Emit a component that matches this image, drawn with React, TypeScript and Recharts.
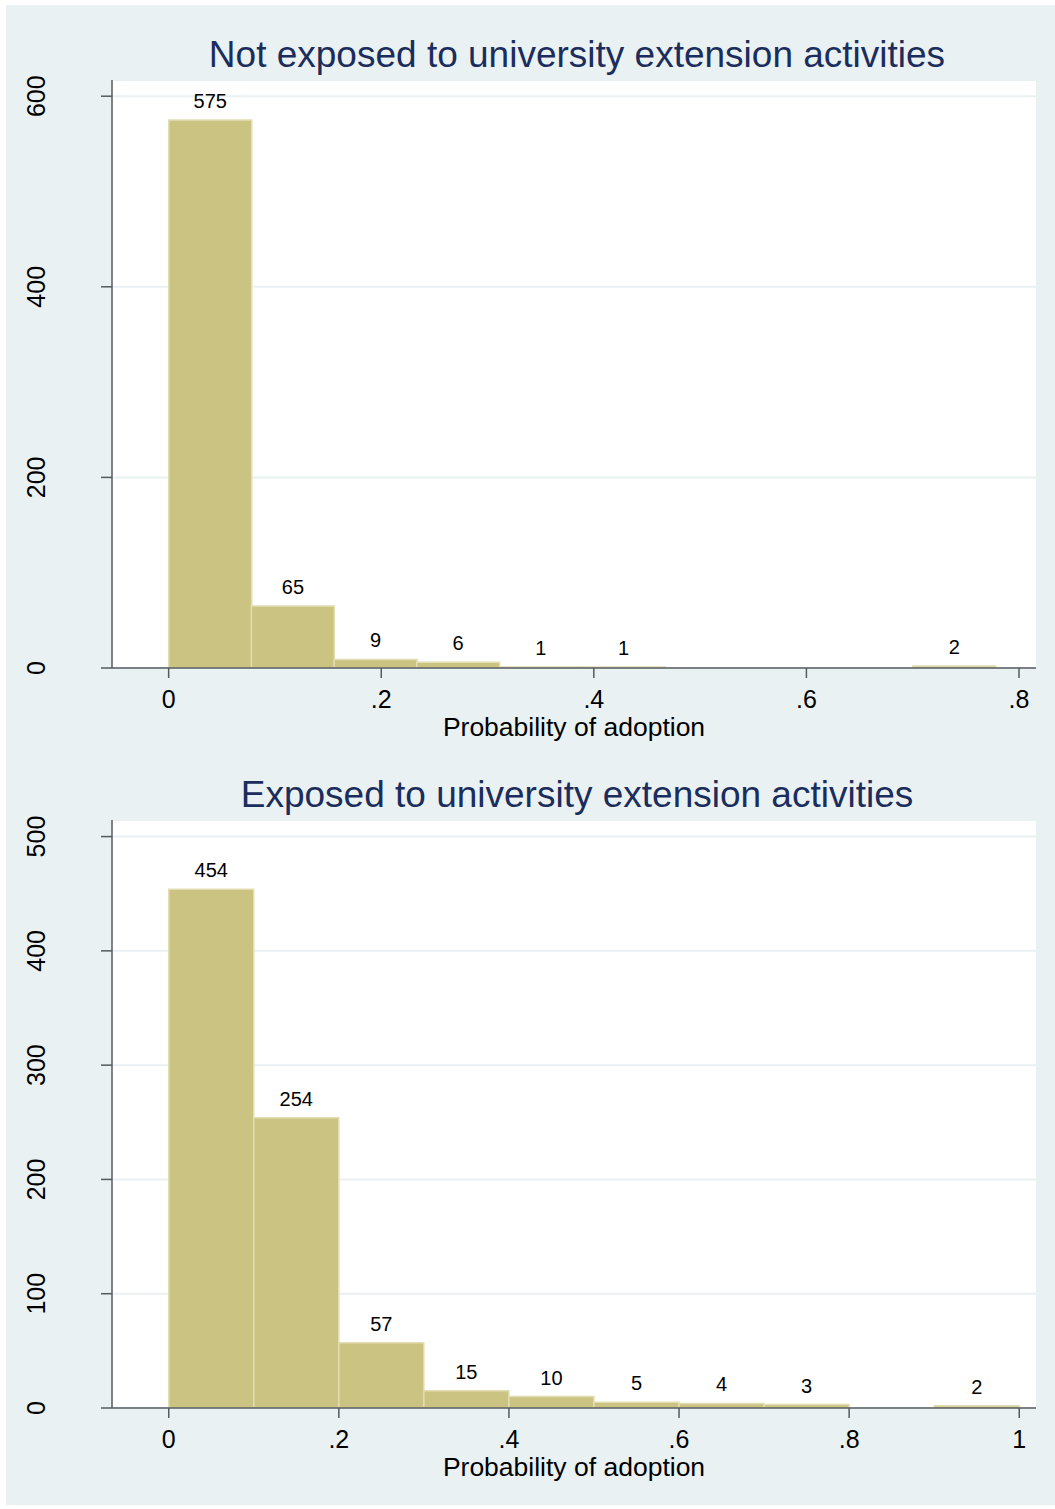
import React from 'react';
import { BarChart, Bar, XAxis, YAxis, CartesianGrid, LabelList } from 'recharts';

// ---- Data ----
const topTitle = 'Not exposed to university extension activities';
const bottomTitle = 'Exposed to university extension activities';
const xAxisTitle = 'Probability of adoption';

const topBinStarts = [0, 0.0778, 0.1556, 0.2333, 0.3111, 0.3889, 0.4667, 0.5444, 0.6222, 0.7];
const topBinWidth = 0.0778;
const topCounts = [575, 65, 9, 6, 1, 1, 0, 0, 0, 2];
const topYTicks = [0, 200, 400, 600];
const topXTicks = [0, 0.2, 0.4, 0.6, 0.8];

const bottomBinStarts = [0, 0.1, 0.2, 0.3, 0.4, 0.5, 0.6, 0.7, 0.8, 0.9];
const bottomBinWidth = 0.1;
const bottomCounts = [454, 254, 57, 15, 10, 5, 4, 3, 0, 2];
const bottomYTicks = [0, 100, 200, 300, 400, 500];
const bottomXTicks = [0, 0.2, 0.4, 0.6, 0.8, 1];

// ---- Styles ----
const FONT = '"Liberation Sans", Arial, Helvetica, sans-serif';
const BG = '#eaf1f3';
const BAR_FILL = '#cbc382';
const BAR_STROKE = '#e3ddb2';
const AXIS = '#555a5e';
const TITLE = '#1b2d5c';

const fmtX = (v: number) => {
  if (v === 0) return '0';
  if (v === 1) return '1';
  return String(Number(v.toFixed(2))).replace(/^0/, '');
};

const YTick = (props: any) => {
  const { y, payload } = props;
  return (
    <text
      x={45}
      y={y}
      transform={`rotate(-90, 45, ${y})`}
      textAnchor="middle"
      fontFamily={FONT}
      fontSize={25}
      fill="#000"
    >
      {payload.value}
    </text>
  );
};

const XTick = (props: any) => {
  const { x, y, payload } = props;
  return (
    <text x={x} y={y + 30} textAnchor="middle" fontFamily={FONT} fontSize={25} fill="#000">
      {fmtX(payload.value)}
    </text>
  );
};

const BarLabel = (props: any) => {
  const { x, y, width, value } = props;
  if (!value) return null;
  return (
    <text
      x={Number(x) + Number(width) / 2}
      y={Number(y) - 12}
      textAnchor="middle"
      fontFamily={FONT}
      fontSize={20}
      fill="#000"
    >
      {value}
    </text>
  );
};

type PanelProps = {
  starts: number[];
  binWidth: number;
  counts: number[];
  yMax: number;
  yTicks: number[];
  xDomain: [number, number];
  xTicks: number[];
  top: number;
  height: number;
  marginBottom: number;
};

const Panel = ({ starts, binWidth, counts, yMax, yTicks, xDomain, xTicks, top, height, marginBottom }: PanelProps) => {
  const data = starts.map((s, i) => ({ x: s + binWidth / 2, count: counts[i] }));
  return (
    <div style={{ position: 'absolute', left: 0, top }}>
      <BarChart
        width={1055}
        height={height}
        data={data}
        margin={{ top: 80, right: 19, left: 0, bottom: marginBottom }}
        barCategoryGap={0}
        barGap={0}
        style={{ fontFamily: FONT }}
      >
        <CartesianGrid vertical={false} stroke={BG} strokeWidth={2} fill="#ffffff" />
        <XAxis
          dataKey="x"
          type="number"
          domain={xDomain}
          ticks={xTicks}
          allowDataOverflow
          tickSize={10}
          tickMargin={0}
          height={70}
          tick={<XTick />}
          axisLine={{ stroke: AXIS, strokeWidth: 1.5 }}
          tickLine={{ stroke: AXIS, strokeWidth: 1.5 }}
        />
        <YAxis
          type="number"
          domain={[0, yMax]}
          ticks={yTicks}
          allowDataOverflow
          width={112}
          tickSize={11}
          tick={<YTick />}
          axisLine={{ stroke: AXIS, strokeWidth: 1.5 }}
          tickLine={{ stroke: AXIS, strokeWidth: 1.5 }}
        />
        <Bar dataKey="count" fill={BAR_FILL} stroke={BAR_STROKE} strokeWidth={1.5} isAnimationActive={false}>
          <LabelList dataKey="count" content={<BarLabel />} />
        </Bar>
      </BarChart>
    </div>
  );
};

export default function App() {
  return (
    <div style={{ position: 'absolute', left: 0, top: 0, width: 1055, height: 1509, background: '#ffffff', overflow: 'hidden' }}>
      <div style={{ position: 'absolute', left: 6, top: 5, width: 1049, height: 1500, background: BG }} />
      <Panel
        starts={topBinStarts}
        binWidth={topBinWidth}
        counts={topCounts}
        yMax={617}
        yTicks={topYTicks}
        xDomain={[-0.0533, 0.816]}
        xTicks={topXTicks}
        top={0}
        height={760}
        marginBottom={22}
      />
      <Panel
        starts={bottomBinStarts}
        binWidth={bottomBinWidth}
        counts={bottomCounts}
        yMax={514.5}
        yTicks={bottomYTicks}
        xDomain={[-0.0667, 1.0197]}
        xTicks={bottomXTicks}
        top={740}
        height={769}
        marginBottom={31}
      />
      <svg width={1055} height={1509} style={{ position: 'absolute', left: 0, top: 0, pointerEvents: 'none' }}>
        <text x={577} y={67} textAnchor="middle" fontFamily={FONT} fontSize={37} fill={TITLE}>
          {topTitle}
        </text>
        <text x={574} y={736} textAnchor="middle" fontFamily={FONT} fontSize={26.5} fill="#000">
          {xAxisTitle}
        </text>
        <text x={577} y={807} textAnchor="middle" fontFamily={FONT} fontSize={37} fill={TITLE}>
          {bottomTitle}
        </text>
        <text x={574} y={1476} textAnchor="middle" fontFamily={FONT} fontSize={26.5} fill="#000">
          {xAxisTitle}
        </text>
      </svg>
    </div>
  );
}
